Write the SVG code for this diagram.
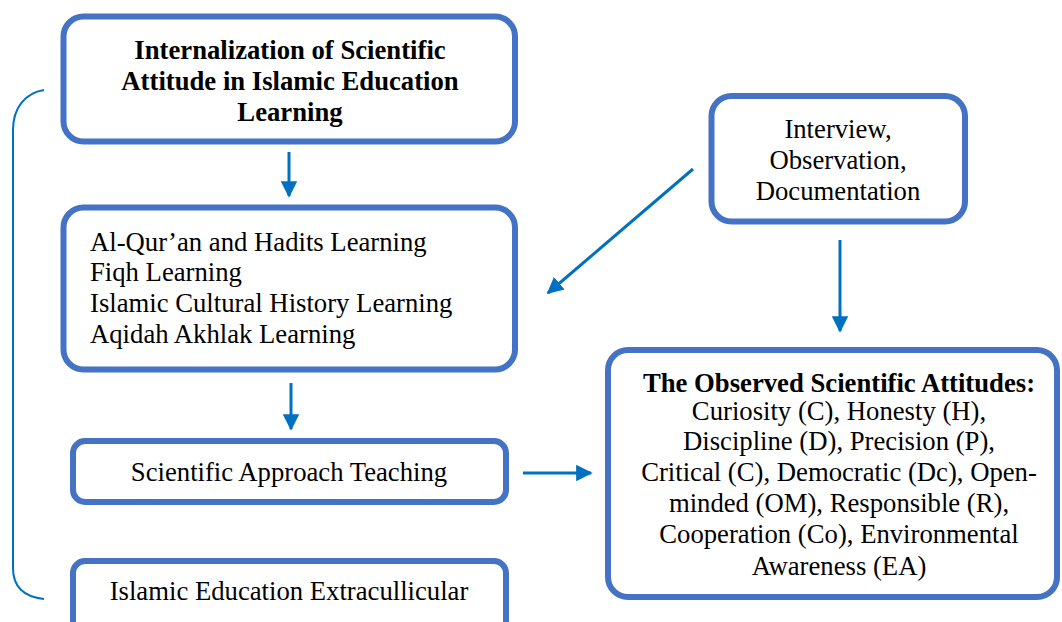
<svg xmlns="http://www.w3.org/2000/svg" width="1062" height="622" viewBox="0 0 1062 622">
  <style>
    .box { fill: #ffffff; stroke: #4472C4; stroke-width: 6; }
    .conn { fill: none; stroke: #0070C0; stroke-width: 3; }
    .brace { fill: none; stroke: #0070C0; stroke-width: 2; }
    text { font-family: "Liberation Serif", "Times New Roman", serif; font-size: 26.7px; fill: #000000; }
    .b { font-weight: bold; }
    .c { text-anchor: middle; }
  </style>
  <defs>
    <marker id="arrow" viewBox="0 0 10 10" refX="9" refY="5" markerWidth="5.5" markerHeight="5.5" markerUnits="strokeWidth" orient="auto">
      <path d="M0,0 L10,5 L0,10 z" fill="#0070C0"/>
    </marker>
  </defs>

  <rect width="1062" height="622" fill="#ffffff"/>

  <!-- left bracket grouping the learning stages -->
  <path class="brace" d="M44,90 C25,93 13,108 13,130 L13,568 C13,588 25,597 44,599"/>

  <g id="connectors">
    <line class="conn" x1="289" y1="152" x2="289" y2="196" marker-end="url(#arrow)"/>
    <line class="conn" x1="693" y1="169" x2="548" y2="293" marker-end="url(#arrow)"/>
    <line class="conn" x1="840" y1="240" x2="840" y2="331" marker-end="url(#arrow)"/>
    <line class="conn" x1="291" y1="383" x2="291" y2="429" marker-end="url(#arrow)"/>
    <line class="conn" x1="523" y1="473" x2="591" y2="473" marker-end="url(#arrow)"/>
  </g>

  <g id="internalization">
    <rect class="box" x="63.5" y="16.5" width="451.5" height="125" rx="20"/>
    <text class="b c" x="290" y="59">Internalization of Scientific</text>
    <text class="b c" x="290" y="90">Attitude in Islamic Education</text>
    <text class="b c" x="290" y="121">Learning</text>
  </g>

  <g id="methods">
    <rect class="box" x="711.5" y="96" width="253.5" height="125.5" rx="20"/>
    <text class="c" x="838" y="138">Interview,</text>
    <text class="c" x="838" y="169">Observation,</text>
    <text class="c" x="838" y="200">Documentation</text>
  </g>

  <g id="subjects">
    <rect class="box" x="63.5" y="207.5" width="451.5" height="162" rx="20"/>
    <text x="90" y="251">Al-Qur’an and Hadits Learning</text>
    <text x="90" y="281">Fiqh Learning</text>
    <text x="90" y="312">Islamic Cultural History Learning</text>
    <text x="90" y="343">Aqidah Akhlak Learning</text>
  </g>

  <g id="approach">
    <rect class="box" x="73" y="441" width="433" height="61" rx="12"/>
    <text class="c" x="289" y="481">Scientific Approach Teaching</text>
  </g>

  <g id="extracurricular">
    <rect class="box" x="73" y="561" width="433" height="80" rx="12"/>
    <text class="c" x="289" y="600">Islamic Education Extracullicular</text>
  </g>

  <g id="attitudes">
    <rect class="box" x="608" y="350" width="449" height="247" rx="20"/>
    <text class="b c" x="839" y="392">The Observed Scientific Attitudes:</text>
    <text class="c" x="839" y="420">Curiosity (C), Honesty (H),</text>
    <text class="c" x="839" y="450">Discipline (D), Precision (P),</text>
    <text class="c" x="839" y="481">Critical (C), Democratic (Dc), Open-</text>
    <text class="c" x="839" y="512">minded (OM), Responsible (R),</text>
    <text class="c" x="839" y="543">Cooperation (Co), Environmental</text>
    <text class="c" x="839" y="575">Awareness (EA)</text>
  </g>
</svg>
